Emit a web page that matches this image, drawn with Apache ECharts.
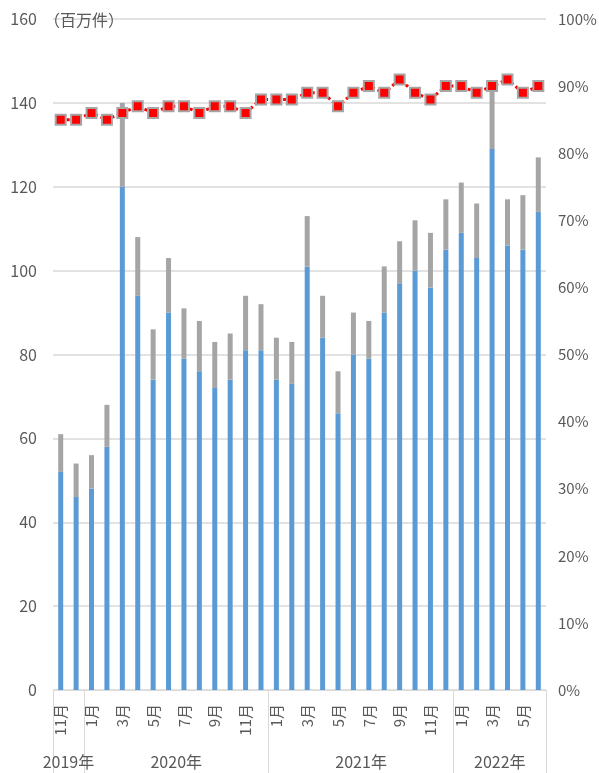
<!DOCTYPE html>
<html>
<head>
<meta charset="utf-8">
<script src="https://cdn.jsdelivr.net/npm/echarts@6/dist/echarts.min.js"></script>
<style>
html,body{margin:0;padding:0;background:#fff;}
#chart{width:599px;height:773px;}
</style>
</head>
<body>
<div id="chart"></div>
<script>
// categories (Nov 2019 - Jun 2022)
const months = ['11月','12月','1月','2月','3月','4月','5月','6月','7月','8月','9月','10月','11月','12月',
  '1月','2月','3月','4月','5月','6月','7月','8月','9月','10月','11月','12月',
  '1月','2月','3月','4月','5月','6月'];
// year group labels placed at band boundaries (33 boundaries)
const yearBoundaries = ['','2019年','','','','','','','2020年','','','','','','','','','','','','2021年','','','','','','','','','2022年','','',''];
const yearSeparators = [0, 2, 14, 26, 32];
// blue part (百万件)
const blueValues = [52,46,48,58,120,94,74,90,79,76,72,74,81,81,74,73,101,84,66,80,79,90,97,100,96,105,109,103,129,106,105,114];
// bar totals (blue + gray)
const totalValues = [61,54,56,68,140,108,86,103,91,88,83,85,94,92,84,83,113,94,76,90,88,101,107,112,109,117,121,116,143,117,118,127];
// ratio line (%)
const ratioValues = [85,85,86,85,86,87,86,87,87,86,87,87,86,88,88,88,89,89,87,89,90,89,91,89,88,90,90,89,90,91,89,90];
const leftTicks = {min:0, max:160, interval:20};
const rightTicks = {min:0, max:100, interval:10};

const grayValues = totalValues.map((t,i)=>t - blueValues[i]);
const FONT = '"Noto Sans CJK JP", "Noto Sans", sans-serif';
const TXT = '#595959';
const GRID = '#d9d9d9';

const chart = echarts.init(document.getElementById('chart'), null, {renderer:'canvas'});
chart.setOption({
  animation:false,
  textStyle:{fontFamily:FONT, color:TXT},
  title:{text:'（百万件）', left:39, top:7, textStyle:{fontFamily:FONT, fontSize:16, fontWeight:'normal', color:TXT}},
  grid:{left:53, right:53, top:19, bottom:83, containLabel:false, outerBoundsMode:'none'},
  xAxis:[
    {type:'category', data:months, boundaryGap:true, position:'bottom',
     axisLine:{show:true, lineStyle:{color:GRID, width:1}},
     axisTick:{show:false},
     axisLabel:{interval:1, rotate:90, margin:14, fontSize:15, color:TXT, fontFamily:FONT}},
    {type:'category', data:yearBoundaries, boundaryGap:false, position:'bottom',
     axisLine:{show:false},
     axisTick:{show:true, length:83, lineStyle:{color:GRID, width:1},
       interval:function(i){return yearSeparators.indexOf(i) >= 0;}},
     axisLabel:{interval:function(i,v){return v !== '';}, margin:64, fontSize:16, color:TXT, fontFamily:FONT}}
  ],
  yAxis:[
    {type:'value', min:leftTicks.min, max:leftTicks.max, interval:leftTicks.interval,
     axisLine:{show:false}, axisTick:{show:false},
     axisLabel:{margin:16, fontSize:16, color:TXT, fontFamily:FONT},
     splitLine:{show:true, lineStyle:{color:GRID, width:1.5}}},
    {type:'value', min:rightTicks.min, max:rightTicks.max, interval:rightTicks.interval, position:'right',
     axisLine:{show:false}, axisTick:{show:false},
     axisLabel:{margin:12, fontSize:15, color:TXT, fontFamily:FONT, formatter:'{value}%'},
     splitLine:{show:false}}
  ],
  series:[
    {type:'bar', stack:'t', data:blueValues, barWidth:5, itemStyle:{color:'#5b9bd5'}, xAxisIndex:0, yAxisIndex:0},
    {type:'bar', stack:'t', data:grayValues, barWidth:5, itemStyle:{color:'#a5a5a5'}, xAxisIndex:0, yAxisIndex:0},
    {type:'line', data:ratioValues, xAxisIndex:0, yAxisIndex:1,
     symbol:'rect', symbolSize:10, showSymbol:true,
     lineStyle:{color:'#ff0000', width:3, type:[3,3]},
     itemStyle:{color:'#ff0000', borderColor:'#a6a6a6', borderWidth:2}, z:5}
  ]
});
</script>
</body>
</html>
